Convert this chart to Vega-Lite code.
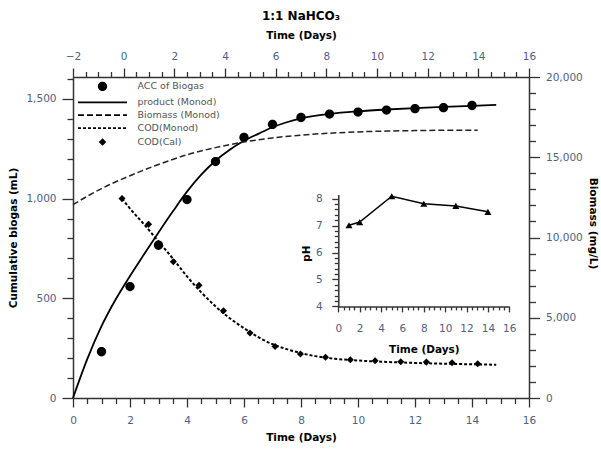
{
  "$schema": "https://vega.github.io/schema/vega-lite/v6.json",
  "width": 456,
  "height": 321,
  "autosize": {"type": "none"},
  "padding": {"left": 73, "top": 77, "right": 72, "bottom": 53},
  "background": "white",
  "title": {"text": "1:1 NaHCO₃", "font": "DejaVu Sans", "fontSize": 12, "fontWeight": "bold", "color": "black", "anchor": "middle", "offset": 8},
  "config": {
    "view": {"stroke": null},
    "font": "DejaVu Sans",
    "axis": {
      "grid": false,
      "domainColor": "#333333",
      "tickColor": "#333333",
      "domainWidth": 1.5,
      "tickWidth": 1.3,
      "labelColor": "#4d6282",
      "labelFont": "DejaVu Sans",
      "labelFontSize": 10.5,
      "titleFont": "DejaVu Sans",
      "titleFontWeight": "bold",
      "titleFontSize": 10.5,
      "titleColor": "black",
      "labelOverlap": false,
      "labelFlush": false
    },
    "legend": {
      "orient": "none",
      "legendX": 4,
      "legendY": 3.4,
      "title": null,
      "padding": 0,
      "labelFont": "DejaVu Sans",
      "labelFontSize": 9.5,
      "labelColor": "#555555",
      "symbolSize": 100,
      "symbolStrokeWidth": 1.8,
      "symbolStrokeColor": "black",
      "symbolOffset": 19.5,
      "labelOffset": 29,
      "rowPadding": 1.9
    }
  },
  "datasets": {
    "acc": [
      {"day": 1, "ml": 232}, {"day": 2, "ml": 559}, {"day": 3, "ml": 766}, {"day": 4, "ml": 995},
      {"day": 5, "ml": 1186}, {"day": 6, "ml": 1307}, {"day": 7, "ml": 1372}, {"day": 8, "ml": 1407},
      {"day": 9, "ml": 1424}, {"day": 10, "ml": 1434}, {"day": 11, "ml": 1444}, {"day": 12, "ml": 1451},
      {"day": 13, "ml": 1456}, {"day": 14, "ml": 1467}
    ],
    "product": [
      {"day": 0, "ml": 0}, {"day": 0.5, "ml": 195}, {"day": 1, "ml": 360}, {"day": 1.5, "ml": 495},
      {"day": 2, "ml": 612}, {"day": 2.5, "ml": 722}, {"day": 3, "ml": 830}, {"day": 3.5, "ml": 935},
      {"day": 4, "ml": 1035}, {"day": 4.5, "ml": 1120}, {"day": 5, "ml": 1190}, {"day": 5.5, "ml": 1245},
      {"day": 6, "ml": 1290}, {"day": 6.5, "ml": 1325}, {"day": 7, "ml": 1358}, {"day": 7.5, "ml": 1383},
      {"day": 8, "ml": 1403}, {"day": 9, "ml": 1425}, {"day": 10, "ml": 1438}, {"day": 11, "ml": 1447},
      {"day": 12, "ml": 1454}, {"day": 13, "ml": 1460}, {"day": 14, "ml": 1465}, {"day": 14.85, "ml": 1470}
    ],
    "biomass": [
      {"day": 0, "mg": 12050}, {"day": 1, "mg": 13050}, {"day": 2, "mg": 13850}, {"day": 3, "mg": 14550},
      {"day": 4, "mg": 15150}, {"day": 5, "mg": 15600}, {"day": 6, "mg": 15950}, {"day": 7, "mg": 16200},
      {"day": 8, "mg": 16380}, {"day": 9, "mg": 16500}, {"day": 10, "mg": 16580}, {"day": 11, "mg": 16630},
      {"day": 12, "mg": 16660}, {"day": 13, "mg": 16680}, {"day": 14.2, "mg": 16690}
    ],
    "codModel": [
      {"day": 1.72, "ml": 1000}, {"day": 2, "ml": 950}, {"day": 2.5, "ml": 870}, {"day": 3, "ml": 785},
      {"day": 3.5, "ml": 700}, {"day": 4, "ml": 610}, {"day": 4.5, "ml": 530}, {"day": 5, "ml": 460},
      {"day": 5.5, "ml": 400}, {"day": 6, "ml": 350}, {"day": 6.5, "ml": 305}, {"day": 7, "ml": 270},
      {"day": 7.5, "ml": 245}, {"day": 8, "ml": 225}, {"day": 8.5, "ml": 210}, {"day": 9, "ml": 200},
      {"day": 10, "ml": 188}, {"day": 11, "ml": 181}, {"day": 12, "ml": 176}, {"day": 13, "ml": 172},
      {"day": 14, "ml": 169}, {"day": 14.85, "ml": 167}
    ],
    "codCal": [
      {"day": 1.72, "ml": 1000}, {"day": 2.65, "ml": 871}, {"day": 3.52, "ml": 683}, {"day": 4.42, "ml": 565},
      {"day": 5.28, "ml": 438}, {"day": 6.21, "ml": 326}, {"day": 7.09, "ml": 258}, {"day": 7.98, "ml": 221},
      {"day": 8.86, "ml": 204}, {"day": 9.73, "ml": 192}, {"day": 10.6, "ml": 187}, {"day": 11.5, "ml": 182},
      {"day": 12.4, "ml": 180}, {"day": 13.3, "ml": 177}, {"day": 14.2, "ml": 172}
    ],
    "ph": [
      {"day": 1, "ph": 7.01}, {"day": 2, "ph": 7.13}, {"day": 5, "ph": 8.09},
      {"day": 8, "ph": 7.81}, {"day": 11, "ph": 7.73}, {"day": 14, "ph": 7.51}
    ]
  },
  "resolve": {
    "scale": {"x": "independent", "y": "independent"},
    "axis": {"x": "independent", "y": "independent"}
  },
  "layer": [
    {
      "data": {"name": "acc"},
      "mark": {"type": "point", "filled": true, "size": 154, "opacity": 1},
      "encoding": {
        "x": {
          "field": "day", "type": "quantitative",
          "scale": {"domain": [0, 16], "nice": false},
          "axis": {
            "orient": "bottom",
            "values": [0, 2, 4, 6, 8, 10, 12, 14, 16],
            "labelExpr": "format(datum.value, 'd')",
            "tickSize": 9,
            "labelPadding": 8,
            "title": "Time (Days)",
            "titleY": 39.5,
            "titleBaseline": "middle"
          }
        },
        "y": {
          "field": "ml", "type": "quantitative",
          "scale": {"domain": [0, 1610], "nice": false},
          "axis": {
            "orient": "left",
            "values": [0, 500, 1000, 1500],
            "labelExpr": "format(datum.value, ',')",
            "tickSize": 11,
            "labelPadding": 6,
            "title": "Cumulative biogas (mL)",
            "titleX": -60,
            "titleY": 160.5,
            "titleBaseline": "middle"
          }
        },
        "color": {
          "datum": "ACC of Biogas", "type": "nominal",
          "scale": {
            "domain": ["ACC of Biogas", "product (Monod)", "Biomass (Monod)", "COD(Monod)", "COD(Cal)"],
            "range": ["black", "black", "black", "black", "black"]
          }
        },
        "shape": {
          "datum": "ACC of Biogas", "type": "nominal",
          "scale": {
            "domain": ["ACC of Biogas", "product (Monod)", "Biomass (Monod)", "COD(Monod)", "COD(Cal)"],
            "range": [
              "M-0.75,0A0.75,0.75,0,1,0,0.75,0A0.75,0.75,0,1,0,-0.75,0Z",
              "M-4.9,0H4.9",
              "M-4.9,0H4.9",
              "M-4.9,0H4.9",
              "M0,-0.5L0.5,0L0,0.5L-0.5,0Z"
            ]
          }
        },
        "strokeDash": {
          "datum": "ACC of Biogas", "type": "nominal",
          "scale": {
            "domain": ["ACC of Biogas", "product (Monod)", "Biomass (Monod)", "COD(Monod)", "COD(Cal)"],
            "range": [[1, 0], [1, 0], [6, 3], [3, 2], [1, 0]]
          }
        }
      }
    },
    {
      "data": {"name": "acc"},
      "mark": {"type": "point", "opacity": 0},
      "encoding": {
        "x": {
          "field": "day", "type": "quantitative",
          "scale": {"domain": [0, 16], "nice": false},
          "axis": {
            "orient": "bottom", "domain": false, "labels": false, "title": null, "tickSize": 5.5,
            "values": [0.5,1,1.5,2.5,3,3.5,4.5,5,5.5,6.5,7,7.5,8.5,9,9.5,10.5,11,11.5,12.5,13,13.5,14.5,15,15.5]
          }
        },
        "y": {
          "field": "ml", "type": "quantitative",
          "scale": {"domain": [0, 1610], "nice": false},
          "axis": {
            "orient": "left", "domain": false, "labels": false, "title": null, "tickSize": 6,
            "values": [100,200,300,400,600,700,800,900,1100,1200,1300,1400,1600]
          }
        }
      }
    },
    {
      "data": {"name": "product"},
      "mark": {"type": "line", "color": "black", "strokeWidth": 1.8, "interpolate": "monotone"},
      "encoding": {
        "x": {"field": "day", "type": "quantitative", "scale": {"domain": [0, 16], "nice": false}, "axis": null},
        "y": {"field": "ml", "type": "quantitative", "scale": {"domain": [0, 1610], "nice": false}, "axis": null}
      }
    },
    {
      "data": {"name": "biomass"},
      "mark": {"type": "line", "color": "#222222", "strokeWidth": 1.5, "strokeDash": [6, 3], "interpolate": "monotone"},
      "encoding": {
        "x": {"field": "day", "type": "quantitative", "scale": {"domain": [0, 16], "nice": false}, "axis": null},
        "y": {
          "field": "mg", "type": "quantitative",
          "scale": {"domain": [0, 20000], "nice": false},
          "axis": {
            "orient": "right",
            "values": [0, 5000, 10000, 15000, 20000],
            "labelExpr": "format(datum.value, ',')",
            "tickSize": 10.5,
            "labelPadding": 6,
            "title": "Biomass (mg/L)",
            "titleX": 63,
            "titleY": 146,
            "titleAngle": 90,
            "titleBaseline": "middle"
          }
        }
      }
    },
    {
      "data": {"name": "biomass"},
      "mark": {"type": "point", "opacity": 0},
      "encoding": {
        "x": {
          "field": "day", "type": "quantitative",
          "scale": {"domain": [-2, 16], "nice": false},
          "axis": {
            "orient": "top", "domain": false, "labels": false, "title": null, "tickSize": 5.5,
            "values": [-1.5,-1,-0.5,0.5,1,1.5,2.5,3,3.5,4.5,5,5.5,6.5,7,7.5,8.5,9,9.5,10.5,11,11.5,12.5,13,13.5,14.5,15,15.5]
          }
        },
        "y": {
          "field": "mg", "type": "quantitative",
          "scale": {"domain": [0, 20000], "nice": false},
          "axis": {
            "orient": "right", "domain": false, "labels": false, "title": null, "tickSize": 6.5,
            "values": [1000,2000,3000,4000,6000,7000,8000,9000,11000,12000,13000,14000,16000,17000,18000,19000]
          }
        }
      }
    },
    {
      "data": {"name": "codModel"},
      "mark": {"type": "line", "color": "black", "strokeWidth": 2, "strokeDash": [3, 2], "interpolate": "monotone"},
      "encoding": {
        "x": {"field": "day", "type": "quantitative", "scale": {"domain": [0, 16], "nice": false}, "axis": null},
        "y": {"field": "ml", "type": "quantitative", "scale": {"domain": [0, 1610], "nice": false}, "axis": null}
      }
    },
    {
      "data": {"name": "codCal"},
      "mark": {"type": "point", "filled": true, "shape": "diamond", "size": 50, "opacity": 1, "color": "black"},
      "encoding": {
        "x": {"field": "day", "type": "quantitative", "scale": {"domain": [0, 16], "nice": false}, "axis": null},
        "y": {"field": "ml", "type": "quantitative", "scale": {"domain": [0, 1610], "nice": false}, "axis": null}
      }
    },
    {
      "data": {"name": "acc"},
      "mark": {"type": "point", "opacity": 0},
      "encoding": {
        "x": {
          "field": "day", "type": "quantitative",
          "scale": {"domain": [-2, 16], "nice": false},
          "axis": {
            "orient": "top",
            "values": [-2, 0, 2, 4, 6, 8, 10, 12, 14, 16],
            "labelExpr": "format(datum.value, 'd')",
            "tickSize": 9,
            "labelPadding": 7,
            "title": "Time (Days)",
            "titleY": -41.5,
            "titleBaseline": "middle"
          }
        }
      }
    },
    {
      "data": {"name": "ph"},
      "mark": {"type": "line", "color": "black", "strokeWidth": 1.5, "point": {"shape": "triangle-up", "filled": true, "size": 50, "color": "black"}},
      "encoding": {
        "x": {
          "field": "day", "type": "quantitative",
          "scale": {"domain": [0, 16], "nice": false, "range": [265.3, 436.3]},
          "axis": {
            "orient": "bottom",
            "offset": -91.6,
            "values": [0, 2, 4, 6, 8, 10, 12, 14, 16],
            "labelExpr": "format(datum.value, 'd')",
            "tickSize": 5.5,
            "labelPadding": 12,
            "title": "Time (Days)",
            "titleY": 43.3,
            "titleBaseline": "middle"
          }
        },
        "y": {
          "field": "ph", "type": "quantitative",
          "scale": {"domain": [4, 8.15], "nice": false, "zero": false, "range": [229.4, 117.6]},
          "axis": {
            "orient": "left",
            "offset": -265.3,
            "values": [4, 5, 6, 7, 8],
            "labelExpr": "format(datum.value, 'd')",
            "tickSize": 6.5,
            "labelPadding": 9.5,
            "title": "pH",
            "titleX": -31.5,
            "titleY": 176,
            "titleBaseline": "middle"
          }
        }
      }
    },
    {
      "data": {"name": "ph"},
      "mark": {"type": "point", "opacity": 0},
      "encoding": {
        "x": {
          "field": "day", "type": "quantitative",
          "scale": {"domain": [0, 16], "nice": false, "range": [265.3, 436.3]},
          "axis": {
            "orient": "bottom", "offset": -91.6, "domain": false, "labels": false, "title": null, "tickSize": 3.5,
            "values": [0.5,1,1.5,2.5,3,3.5,4.5,5,5.5,6.5,7,7.5,8.5,9,9.5,10.5,11,11.5,12.5,13,13.5,14.5,15,15.5]
          }
        },
        "y": {
          "field": "ph", "type": "quantitative",
          "scale": {"domain": [4, 8.15], "nice": false, "zero": false, "range": [229.4, 117.6]},
          "axis": {
            "orient": "left", "offset": -265.3, "domain": false, "labels": false, "title": null, "tickSize": 4,
            "values": [4.2,4.4,4.6,4.8,5.2,5.4,5.6,5.8,6.2,6.4,6.6,6.8,7.2,7.4,7.6,7.8]
          }
        }
      }
    }
  ]
}
